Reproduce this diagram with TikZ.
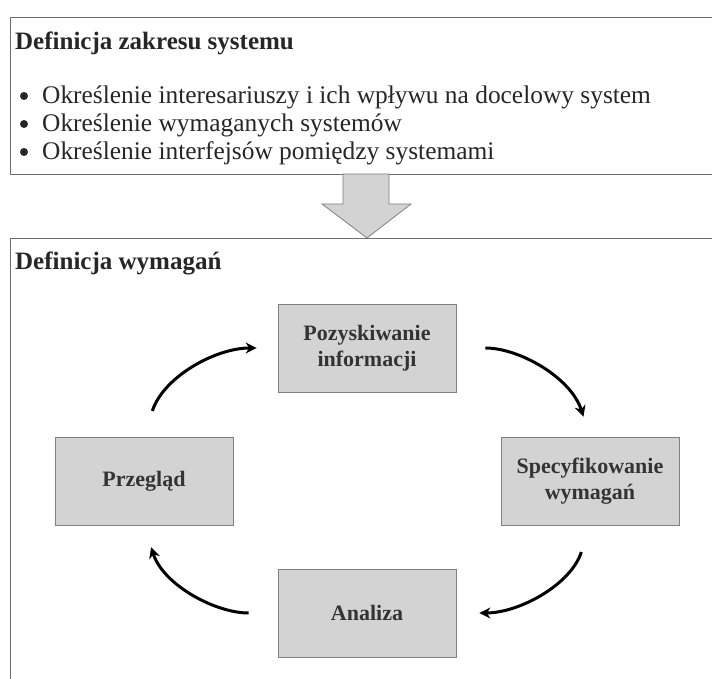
\documentclass[tikz,border=0pt]{standalone}
\usepackage{fontspec}
\setmainfont{Liberation Serif}
\usetikzlibrary{arrows.meta,positioning}
\definecolor{panelline}{HTML}{6E6E6E}
\definecolor{boxfill}{HTML}{D3D3D3}
\definecolor{boxline}{HTML}{808080}
\definecolor{boxtext}{HTML}{333333}

\begin{document}
\begin{tikzpicture}[x=1pt, y=1pt,
  panel/.style={draw=panelline, line width=0.9pt, minimum width=720pt, inner sep=0pt},
  heading/.style={anchor=base west, inner sep=0pt, text=black!85, font=\fontsize{25}{30}\selectfont\bfseries},
  item/.style={anchor=base west, inner sep=0pt, text=black!85, font=\fontsize{25.4}{30}\selectfont},
  dot/.style={circle, fill=black!85, inner sep=0pt, minimum size=8pt},
  stage/.style={draw=boxline, fill=boxfill, line width=0.8pt, minimum width=178pt, minimum height=88pt,
    align=center, text=boxtext, font=\fontsize{22}{26}\selectfont\bfseries},
  flow/.style={line width=3pt, -{Stealth[length=11pt, width=11pt]}},
  blockarrow/.style={draw=boxline, fill=boxfill, line width=0.8pt}
]
\useasboundingbox (0,0) rectangle (712,679);

% scope definition panel
\node[panel, minimum height=157pt] (zakres) at (370,583.5) {};
\node[heading] (zakresT) at (15,629) {Definicja zakresu systemu};
\foreach \txt [count=\i] in {Określenie interesariuszy i ich wpływu na docelowy system,
  Określenie wymaganych systemów, Określenie interfejsów pomiędzy systemami} {
  \node[dot] (kropka\i) at ({24},{583-28*(\i-1)}) {};
  \node[item] (pkt\i) at ({42},{575-28*(\i-1)}) {\txt};
}

% block arrow between panels
\draw[blockarrow] (343,505) -- (343,475) -- (322,475) -- (367,441) -- (411,475) -- (389,475) -- (389,505) -- cycle;

% requirements panel
\node[panel, minimum height=462pt] (wymag) at (370,210) {};
\node[heading] (wymagT) at (15,409) {Definicja wymagań};

\coordinate (c) at (367,198);
\node[stage, yshift=133pt] (pozysk) at (c) {Pozyskiwanie\\informacji};
\node[stage, xshift=223pt] (spec) at (c) {Specyfikowanie\\wymagań};
\node[stage, yshift=-132pt] (analiza) at (c) {Analiza};
\node[stage, xshift=-223pt] (przeglad) at (c) {Przegląd};

\draw[flow, shorten <=27pt, shorten >=21pt] (przeglad.north) to[out=72, in=180] (pozysk.west);
\draw[flow, shorten <=29pt, shorten >=21pt] (pozysk.east) to[out=0, in=108] (spec.north);
\draw[flow, shorten <=28pt, shorten >=23pt] (spec.south) to[out=-108, in=0] (analiza.east);
\draw[flow, shorten <=29pt, shorten >=23pt] (analiza.west) to[out=180, in=-72] (przeglad.south);
\end{tikzpicture}
\end{document}
